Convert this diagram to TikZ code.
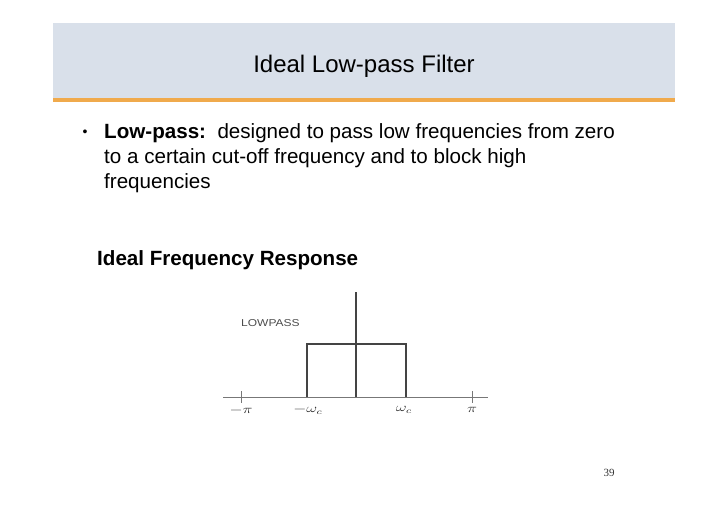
\documentclass[tikz,border=0pt]{standalone}
\usepackage{fontspec}
\setmainfont{Liberation Sans}
\newfontfamily\numfont{Liberation Serif}
\definecolor{hdrfill}{HTML}{D9E0EA}
\definecolor{hdrline}{HTML}{F0AA4C}
\definecolor{axisgray}{HTML}{777777}
\definecolor{plotgray}{HTML}{444444}
\tikzset{
  bodytext/.style={anchor=base west, inner sep=0pt, font=\fontsize{20.6}{25}\selectfont},
  axisline/.style={draw=axisgray, line width=1pt},
  plotline/.style={draw=plotgray, line width=1.2pt},
  ticklabel/.style={inner sep=0pt, font=\fontsize{11.5}{13}\selectfont, text=black!85}
}
\begin{document}
\begin{tikzpicture}[x=1pt,y=-1pt]
\useasboundingbox (0,0) rectangle (728,515);
% header
\fill[hdrfill] (53,23) rectangle (675,98);
\fill[hdrline] (53,98) rectangle (675,101.5);
\node[anchor=base, inner sep=0pt, font=\fontsize{24}{28}\selectfont] (title) at (364,72) {Ideal Low-pass Filter};
% body
\node[anchor=base, inner sep=0pt, font=\fontsize{14}{14}\selectfont] (bul) at (85,136) {•};
\node[bodytext] (l1) at (104,138) {\textbf{Low-pass:}\ \ designed to pass low frequencies from zero};
\node[bodytext] (l2) at (104,163) {to a certain cut-off frequency and to block high};
\node[bodytext] (l3) at (104,188) {frequencies};
\node[bodytext] (sub) at (97,265) {\textbf{Ideal Frequency Response}};
% graph
\coordinate (axL) at (223,397);
\coordinate (axR) at (488,397);
\coordinate (vB) at (356,397);
\coordinate (vT) at (356,292);
\draw[axisline] (axL) -- (axR);
\draw[axisline] (241,391) -- (241,403);
\draw[axisline] (472,391) -- (472,403);
\draw[plotline] (vB) -- (vT);
\draw[plotline] (307,397) -- (307,344) -- (406,344) -- (406,397);
\node[anchor=base west, inner sep=0pt, font=\fontsize{10}{12}\selectfont, text=black!70] (lp) at (241,326) {\scalebox{1.2}[1]{LOWPASS}};
\node[ticklabel] (lmpi) at (241,410) {\scalebox{1.4}[1]{$-\pi$}};
\node[ticklabel] (lmwc) at (308,410) {\scalebox{1.4}[1]{$-\omega_c$}};
\node[ticklabel] (lwc) at (404,410) {\scalebox{1.4}[1]{$\omega_c$}};
\node[ticklabel] (lpi) at (472,410) {\scalebox{1.4}[1]{$\pi$}};
% page number
\node[inner sep=0pt, font=\numfont\fontsize{11}{13}\selectfont, text=black!80] (pg) at (609,473) {39};
\end{tikzpicture}
\end{document}
